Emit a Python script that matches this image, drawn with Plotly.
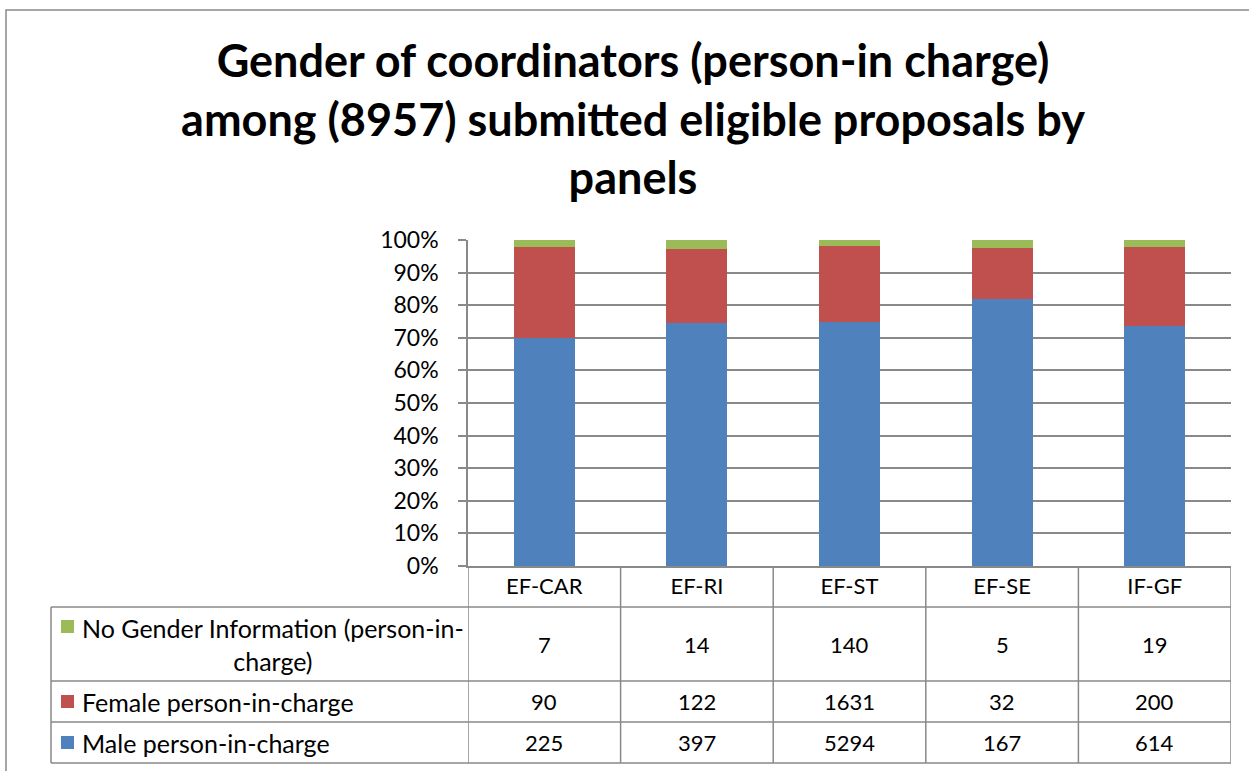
import plotly.graph_objects as go

# ---- data ----
panels = ["EF-CAR", "EF-RI", "EF-ST", "EF-SE", "IF-GF"]
male = [225, 397, 5294, 167, 614]
female = [90, 122, 1631, 32, 200]
no_gender = [7, 14, 140, 5, 19]
series_names = ["No Gender Information (person-in-<br>charge)",
                "Female person-in-charge",
                "Male person-in-charge"]
title_text = ("Gender of coordinators (person-in charge)<br>"
              "among (8957) submitted eligible proposals by<br>panels")

C_MALE = "#4F81BD"
C_FEMALE = "#C0504D"
C_NOG = "#9BBB59"
GRID = "#898989"
FONT = "Lato, Calibri, sans-serif"

W, H = 1249, 771
L, R, T, B = 468, 1231, 240, 566


def px(x):
    return (x - L) / (R - L)


def py(y):
    return (B - y) / (B - T)


fig = go.Figure()
fig.add_trace(go.Bar(x=panels, y=male, name="Male person-in-charge",
                     marker=dict(color=C_MALE, line=dict(width=0)), width=0.4))
fig.add_trace(go.Bar(x=panels, y=female, name="Female person-in-charge",
                     marker=dict(color=C_FEMALE, line=dict(width=0)), width=0.4))
fig.add_trace(go.Bar(x=panels, y=no_gender, name="No Gender Information",
                     marker=dict(color=C_NOG, line=dict(width=0)), width=0.4))

fig.update_layout(
    width=W, height=H,
    margin=dict(l=L, r=W - R, t=T, b=H - B),
    barmode="stack", barnorm="fraction",
    showlegend=False,
    paper_bgcolor="white", plot_bgcolor="white",
    font=dict(family=FONT, size=22, color="black"),
    title=dict(text=title_text, x=633 / W, xanchor="center",
               y=1 - 77 / H, yanchor="top", yref="container",
               font=dict(family=FONT, size=45, color="black", weight="bold")),
)
fig.update_yaxes(range=[0, 1], dtick=0.1, tickformat=".0%",
                 showgrid=True, gridcolor=GRID, gridwidth=1.5,
                 ticks="outside", ticklen=8, tickcolor=GRID, tickwidth=1.5,
                 showline=True, linecolor=GRID, linewidth=1.5,
                 zeroline=False, ticklabelstandoff=15,
                 tickfont=dict(size=23))
fig.update_xaxes(range=[-0.5, 4.5], showgrid=False, ticks="",
                 showline=True, linecolor=GRID, linewidth=1.5,
                 tickfont=dict(size=22), ticklabelstandoff=0)

line = dict(color=GRID, width=1.5)
# table horizontal lines
for yy in [607, 681, 722, 763]:
    fig.add_shape(type="line", xref="paper", yref="paper",
                  x0=px(51), x1=px(R), y0=py(yy), y1=py(yy), line=line)
# left edge of the table
fig.add_shape(type="line", xref="paper", yref="paper",
              x0=px(51), x1=px(51), y0=py(607), y1=py(763), line=line)
# column separators
for i in range(len(panels) + 1):
    fig.add_shape(type="line", xref="x", yref="paper",
                  x0=i - 0.5, x1=i - 0.5, y0=0, y1=py(763), line=line)
# outer chart border
fig.add_shape(type="rect", xref="paper", yref="paper",
              x0=px(6), x1=px(1262), y0=py(10), y1=py(780),
              line=line, fillcolor="rgba(0,0,0,0)")

rows = [(no_gender, series_names[0], C_NOG, 644, 626.5),
        (female, series_names[1], C_FEMALE, 701.5, 701.5),
        (male, series_names[2], C_MALE, 742.5, 742.5)]
for vals, name, col, yc, ysq in rows:
    for cat, v in zip(panels, vals):
        fig.add_annotation(x=cat, xref="x", y=py(yc), yref="paper",
                           text=str(v), showarrow=False, xanchor="center",
                           yanchor="middle", font=dict(size=22))
    fig.add_annotation(x=px(80), xref="paper", y=py(yc), yref="paper",
                       text=name, showarrow=False, xanchor="left",
                       yanchor="middle", align="center", font=dict(size=25))
    fig.add_shape(type="rect", xref="paper", yref="paper",
                  x0=px(61), x1=px(74), y0=py(ysq - 6.5), y1=py(ysq + 6.5),
                  fillcolor=col, line=dict(width=0))

fig.write_html("out.html", config={"displayModeBar": False},
               post_script="document.body.style.margin='0';")
